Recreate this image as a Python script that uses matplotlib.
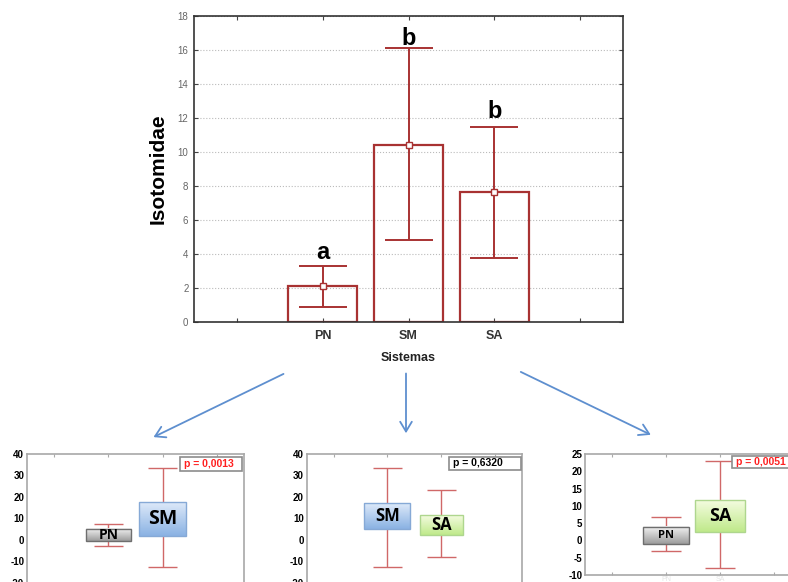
import numpy as np
import matplotlib.pyplot as plt
from matplotlib.patches import Rectangle, FancyArrowPatch
from matplotlib.colors import LinearSegmentedColormap

plt.rcParams['font.family'] = ['Liberation Sans', 'DejaVu Sans']
plt.rcParams['axes.unicode_minus'] = False

# grafico principal (media e intervalo)
sistemas = ['PN', 'SM', 'SA']
medias = [2.1, 10.4, 7.65]
lim_sup = [3.3, 16.1, 11.5]
lim_inf = [0.88, 4.8, 3.75]
letras = ['a', 'b', 'b']
letras_y = [3.7, 16.3, 12.0]

# comparacoes par a par
pares = [['PN', 'SM'], ['SM', 'SA'], ['PN', 'SA']]
p_textos = ['p = 0,0013', 'p = 0,6320', 'p = 0,0051']
bigode_sup = [[7.2, 33.3], [33.3, 23.2], [6.9, 23.0]]
bigode_inf = [[-2.9, -12.6], [-12.6, -7.9], [-3.0, -8.1]]
caixa_sup = [[5.1, 17.5], [17.0, 11.4], [4.0, 11.6]]
caixa_inf = [[-0.6, 1.9], [4.9, 2.3], [-0.95, 2.4]]
y_limites = [(-25, 40), (-25, 40), (-10, 25)]
y_passos = [10, 10, 5]

# estilo
W, H = 788, 582
vermelho = '#A83232'
cor_bigode = '#D06868'
cores_caixa = {'PN': ('#F4F4F4', '#9C9C9C', '#6E6E6E'),
               'SM': ('#DDE9F9', '#8AB2E3', '#86A9D6'),
               'SA': ('#F4FCE0', '#BFE98A', '#AED68E')}
larg_caixa = [[0.83, 0.87], [0.85, 0.80], [0.85, 0.92]]
tam_rotulo = [[10, 14], [12, 12], [8, 13]]
p_cores = ['#FF2020', 'black', '#FF2020']
p_caixas = [(3.32, 4.47, 32.2, 38.6), (3.15, 4.48, 32.6, 38.6), (3.22, 4.8, 21.0, 24.5)]
paineis = [(27, 217, 139.3, 593.3), (306.7, 215, 139.3, 593.3), (585, 216, 121, 575)]

fig = plt.figure(figsize=(W / 100, H / 100), dpi=100)

# --- painel superior ---
ax = fig.add_axes([194 / W, (H - 322) / H, 429 / W, 306 / H])
x = np.arange(1, len(sistemas) + 1)
m = np.array(medias)
ax.bar(x, m, width=0.8, fill=False, edgecolor=vermelho, linewidth=1.6, zorder=2)
yerr = [m - np.array(lim_inf), np.array(lim_sup) - m]
ax.errorbar(x, m, yerr=yerr, fmt='none', ecolor=vermelho, elinewidth=1.4,
            capsize=17, capthick=1.4, zorder=3)
ax.plot(x, m, 's', ms=4.5, mfc='white', mec=vermelho, mew=1.0, zorder=4)
for xi, l, ly in zip(x, letras, letras_y):
    ax.text(xi, ly, l, ha='center', va='baseline', fontsize=17, fontweight='bold')
ax.set_xlim(-0.5, 4.5)
ax.set_ylim(0, 18)
ax.set_xticks(range(0, 5))
ax.set_xticklabels([''] + sistemas + [''], fontsize=9, fontweight='bold', color='#333333')
ax.set_yticks(range(0, 19, 2))
ax.tick_params(axis='y', labelsize=7, labelcolor='#666666', pad=4)
ax.tick_params(direction='in', length=3, top=True, right=True, color='#444444')
ax.tick_params(axis='x', pad=6)
ax.grid(axis='y', linestyle=':', color='#BBBBBB', linewidth=0.8)
ax.set_axisbelow(True)
for s in ax.spines.values():
    s.set_color('#333333')
    s.set_linewidth(1.2)
ax.set_ylabel('Isotomidae', fontsize=15, fontweight='bold', labelpad=7)
ax.set_xlabel('Sistemas', fontsize=9, fontweight='bold', color='#222222', labelpad=7)

# --- setas ---
setas = [((286, 372.7), (151, 438.3)), ((406, 370.7), (406, 436)), ((518.3, 370.7), (653.3, 436))]
for (x0, y0), (x1, y1) in setas:
    fig.add_artist(FancyArrowPatch((x0 / W, 1 - y0 / H), (x1 / W, 1 - y1 / H),
                                   arrowstyle='->,head_length=0.5,head_width=0.3',
                                   mutation_scale=14, color='#5E8FCF', lw=1.3))

# --- paineis inferiores ---
for i, (left, wid, hei, bot) in enumerate(paineis):
    a = fig.add_axes([left / W, (H - bot) / H, wid / W, hei / H])
    for j, nome in enumerate(pares[i]):
        xc = j + 2
        a.vlines(xc, bigode_inf[i][j], bigode_sup[i][j], color=cor_bigode, lw=1, zorder=2)
        a.hlines([bigode_inf[i][j], bigode_sup[i][j]], xc - 0.27, xc + 0.27,
                 color=cor_bigode, lw=1, zorder=2)
        top, bottom, edge = cores_caixa[nome]
        w = larg_caixa[i][j]
        cmap = LinearSegmentedColormap.from_list(nome, [bottom, top])
        grad = np.linspace(0, 1, 64).reshape(-1, 1)
        a.imshow(grad, extent=(xc - w / 2, xc + w / 2, caixa_inf[i][j], caixa_sup[i][j]),
                 origin='lower', cmap=cmap, aspect='auto', zorder=3)
        a.add_patch(Rectangle((xc - w / 2, caixa_inf[i][j]), w, caixa_sup[i][j] - caixa_inf[i][j],
                              fill=False, ec=edge, lw=1, zorder=4))
        a.text(xc, (caixa_inf[i][j] + caixa_sup[i][j]) / 2, nome, ha='center', va='center',
               fontsize=tam_rotulo[i][j], fontweight='bold', family='Open Sans', zorder=5)
    px0, px1, py0, py1 = p_caixas[i]
    a.add_patch(Rectangle((px0, py0), px1 - px0, py1 - py0, fc='white', ec='#8C8C8C',
                          lw=1.2, zorder=5, clip_on=False))
    a.text(px0 + 0.08, (py0 + py1) / 2, p_textos[i], ha='left', va='center',
           fontsize=7.5, fontweight='bold', color=p_cores[i], zorder=6, clip_on=False)
    a.set_xlim(0.5, 4.5)
    a.set_ylim(*y_limites[i])
    lo = y_limites[i][0] // y_passos[i] * y_passos[i]
    a.set_yticks(np.arange(lo + y_passos[i] if y_limites[i][0] % y_passos[i] else lo,
                           y_limites[i][1] + 1, y_passos[i]))
    a.set_xticks([1, 2, 3, 4])
    if i == 2:
        a.set_xticklabels(['', pares[i][0], pares[i][1], ''], fontsize=5, color='#E4E4E4')
    else:
        a.set_xticklabels([])
    a.tick_params(axis='y', labelsize=7, pad=2, length=0)
    for lab in a.get_yticklabels():
        lab.set_fontweight('bold')
    a.tick_params(axis='x', direction='in', length=2, top=True, color='#AAAAAA', pad=1)
    for s in a.spines.values():
        s.set_color('#A8A8A8')
        s.set_linewidth(1.2)

fig.savefig('out.png', dpi=100)
